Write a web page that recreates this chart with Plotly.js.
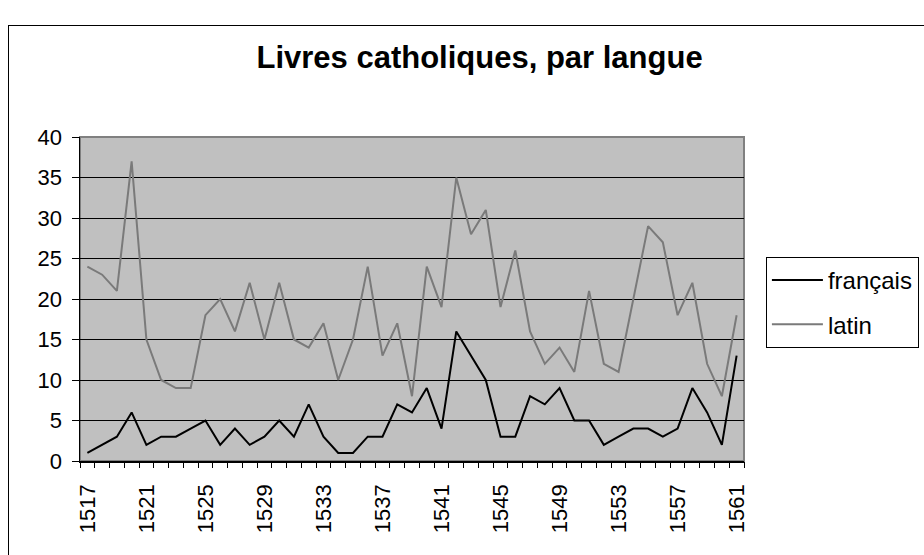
<!DOCTYPE html>
<html>
<head>
<meta charset="utf-8">
<script src="https://cdn.plot.ly/plotly-3.0.1.min.js"></script>
<style>
html, body { margin: 0; padding: 0; background: #fff; overflow: hidden; }
#chart { width: 924px; height: 555px; position: absolute; left: 0; top: 0; }
#frame { position: absolute; left: 8px; top: 25px; width: 940px; height: 560px;
         border: 1.5px solid #000; pointer-events: none; box-sizing: border-box; }
</style>
</head>
<body>
<div id="chart"></div>
<div id="frame"></div>
<script>
// Years 1517..1561
const years = [1517,1518,1519,1520,1521,1522,1523,1524,1525,1526,1527,1528,1529,1530,1531,
               1532,1533,1534,1535,1536,1537,1538,1539,1540,1541,1542,1543,1544,1545,1546,
               1547,1548,1549,1550,1551,1552,1553,1554,1555,1556,1557,1558,1559,1560,1561];
const francais = [1,2,3,6,2,3,3,4,5,2,4,2,3,5,3,7,3,1,1,3,3,7,6,9,4,16,13,10,3,3,8,7,9,5,5,2,3,4,4,3,4,9,6,2,13];
const latin = [24,23,21,37,15,10,9,9,18,20,16,22,15,22,15,14,17,10,15,24,13,17,8,24,19,35,28,31,19,26,16,12,14,11,21,12,11,20,29,27,18,22,12,8,18];
const tickLabelYears = [1517,1521,1525,1529,1533,1537,1541,1545,1549,1553,1557,1561];
const yTicks = [0,5,10,15,20,25,30,35,40];

const FONT = 'Arial, "Liberation Sans", sans-serif';
const xmin = years[0] - 0.5, xmax = years[years.length - 1] + 0.5;
const boundaries = years.map(y => y - 0.5).concat([xmax]);

const traces = [
  { x: years, y: francais, name: 'français', type: 'scatter', mode: 'lines',
    line: { color: '#000000', width: 2 }, legendgroup: 'a', hoverinfo: 'skip' },
  { x: years, y: latin, name: 'latin', type: 'scatter', mode: 'lines',
    line: { color: '#7a7a7a', width: 2 }, legendgroup: 'b', hoverinfo: 'skip' },
  { x: years, y: francais, xaxis: 'x2', type: 'scatter', mode: 'none',
    showlegend: false, hoverinfo: 'skip' }
];

const layout = {
  width: 924, height: 555,
  margin: { l: 80, r: 180, t: 137, b: 94, pad: 0, autoexpand: false },
  paper_bgcolor: '#ffffff',
  plot_bgcolor: '#c0c0c0',
  font: { family: FONT, color: '#000' },
  title: { text: '<b>Livres catholiques, par langue</b>', font: { family: FONT, size: 31, color: '#000' },
           xref: 'container', x: 0.519, xanchor: 'center', yref: 'container', y: 0.897, yanchor: 'middle' },
  xaxis: {
    type: 'linear', range: [xmin, xmax], tickmode: 'array', tickvals: tickLabelYears,
    ticktext: tickLabelYears.map(String), tickangle: -90,
    ticks: 'outside', ticklen: 6, tickcolor: 'rgba(0,0,0,0)',
    ticklabelstandoff: 7,
    tickfont: { family: FONT, size: 22, color: '#000' },
    showgrid: false, zeroline: false, showline: true, linecolor: '#000', linewidth: 1.5,
    fixedrange: true, automargin: false
  },
  xaxis2: {
    overlaying: 'x', type: 'linear', range: [xmin, xmax], tickmode: 'array', tickvals: boundaries,
    ticks: 'outside', ticklen: 6, tickcolor: '#000', tickwidth: 1, showticklabels: false,
    showgrid: false, zeroline: false, showline: false, side: 'bottom', fixedrange: true
  },
  yaxis: {
    range: [0, 40], tickmode: 'array', tickvals: yTicks,
    ticks: 'outside', ticklen: 7, tickcolor: '#000', tickwidth: 1,
    ticklabelstandoff: 5,
    tickfont: { family: FONT, size: 22, color: '#000' },
    showgrid: true, gridcolor: '#000', gridwidth: 1,
    zeroline: false, showline: true, linecolor: '#000', linewidth: 1.5, fixedrange: true,
    automargin: false
  },
  shapes: [
    { type: 'rect', xref: 'paper', yref: 'paper', x0: 0, x1: 1, y0: 0, y1: 1,
      line: { color: '#808080', width: 2 }, fillcolor: 'rgba(0,0,0,0)', layer: 'below' }
  ],
  legend: {
    x: 1.033, xanchor: 'left', y: 0.63, yanchor: 'top',
    bordercolor: '#000', borderwidth: 1, bgcolor: '#fff',
    font: { family: FONT, size: 24, color: '#000' },
    itemwidth: 51,
    traceorder: 'grouped', tracegroupgap: 10
  },
  showlegend: true
};

Plotly.newPlot('chart', traces, layout, { staticPlot: true, displayModeBar: false });
</script>
</body>
</html>
